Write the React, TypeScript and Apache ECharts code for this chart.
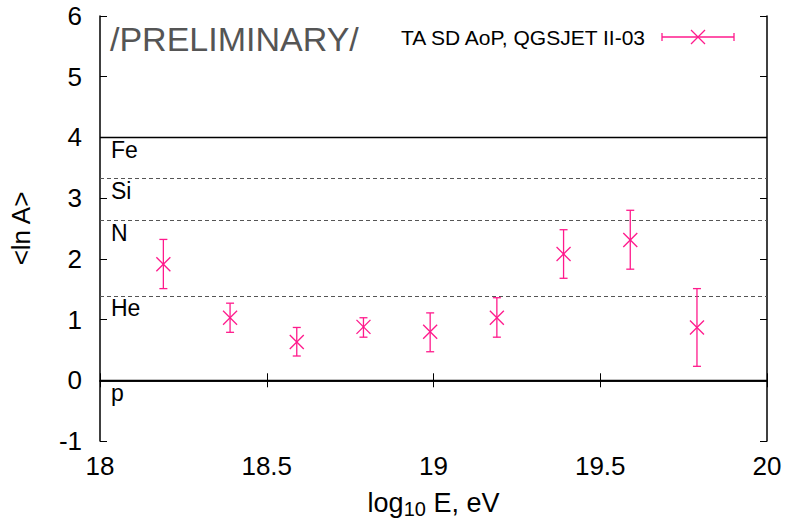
import React, { useEffect, useRef } from "react";
import * as echarts from "echarts";

const energies = [18.19, 18.39, 18.59, 18.79, 18.99, 19.19, 19.39, 19.59, 19.79];
const lnA = [1.91, 1.03, 0.63, 0.88, 0.8, 1.03, 2.08, 2.31, 0.87];
const errHigh = [2.32, 1.27, 0.87, 1.03, 1.11, 1.36, 2.48, 2.8, 1.51];
const errLow = [1.51, 0.79, 0.4, 0.71, 0.47, 0.71, 1.68, 1.83, 0.23];

const elementNames = ["Fe", "Si", "N", "He", "p"];
const elementLnA = [4.0, 3.33, 2.64, 1.386, 0];
const elementSolid = [true, false, false, false, true];

const seriesName = "TA SD AoP, QGSJET II-03";
const PINK = "#ff1a8c";

export default function App() {
  const ref = useRef<HTMLDivElement>(null);
  useEffect(() => {
    if (!ref.current) return;
    const chart = echarts.init(ref.current, null, { renderer: "svg" });
    const font = "'Liberation Sans', Arial, sans-serif";
    const data = energies.map((x, i) => [x, lnA[i], errLow[i], errHigh[i]]);

    const markData = elementNames.map((n, i) => ({
      name: n,
      yAxis: elementLnA[i],
      lineStyle: elementSolid[i]
        ? { color: "#000", type: "solid", width: 1.3 }
        : { color: "#555", type: [4, 3], width: 1 },
    }));

    const axisCommon = {
      axisLine: { show: true, lineStyle: { color: "#000", width: 1.5 } },
      axisTick: { show: true, inside: true, length: 7, lineStyle: { color: "#000", width: 1 } },
      splitLine: { show: false },
    };

    chart.setOption({
      animation: false,
      grid: { left: 100, right: 22, top: 16, bottom: 84 },
      xAxis: [
        {
          type: "value",
          min: 18,
          max: 20,
          interval: 0.5,
          ...axisCommon,
          axisLabel: {
            color: "#000",
            fontSize: 26,
            fontFamily: font,
            margin: 12,
            formatter: (v: number) => String(v),
          },
          name: "{a|log}{s|10}{a| E, eV}",
          nameLocation: "middle",
          nameGap: 46,
          nameTextStyle: {
            rich: {
              a: { fontSize: 27, fontFamily: font, color: "#000" },
              s: { fontSize: 20, fontFamily: font, color: "#000", verticalAlign: "bottom", padding: [12, 0, 0, 0] },
            },
          },
        },
        {
          type: "value",
          position: "top",
          min: 18,
          max: 20,
          interval: 0.5,
          ...axisCommon,
          axisLabel: { show: false },
        },
      ],
      yAxis: [
        {
          type: "value",
          min: -1,
          max: 6,
          interval: 1,
          ...axisCommon,
          axisLabel: { color: "#000", fontSize: 26, fontFamily: font, margin: 18 },
          name: "<ln A>",
          nameLocation: "middle",
          nameGap: 66,
          nameTextStyle: { fontSize: 26, fontFamily: font, color: "#000" },
        },
        {
          type: "value",
          position: "right",
          min: -1,
          max: 6,
          interval: 1,
          ...axisCommon,
          axisLabel: { show: false },
        },
      ],
      series: [
        {
          type: "custom",
          name: seriesName,
          data,
          renderItem: (params: any, api: any) => {
            const x = api.value(0);
            const c = api.coord([x, api.value(1)]);
            const lo = api.coord([x, api.value(2)]);
            const hi = api.coord([x, api.value(3)]);
            const cap = 4;
            const m = 7;
            const style = { stroke: PINK, lineWidth: 1.3, fill: "none" };
            return {
              type: "group",
              children: [
                { type: "line", shape: { x1: c[0], y1: lo[1], x2: c[0], y2: hi[1] }, style },
                { type: "line", shape: { x1: c[0] - cap, y1: lo[1], x2: c[0] + cap, y2: lo[1] }, style },
                { type: "line", shape: { x1: c[0] - cap, y1: hi[1], x2: c[0] + cap, y2: hi[1] }, style },
                { type: "line", shape: { x1: c[0] - m, y1: c[1] - m, x2: c[0] + m, y2: c[1] + m }, style },
                { type: "line", shape: { x1: c[0] - m, y1: c[1] + m, x2: c[0] + m, y2: c[1] - m }, style },
              ],
            };
          },
          markLine: {
            silent: true,
            symbol: "none",
            data: markData,
            label: {
              show: true,
              position: "insideStartBottom",
              formatter: (p: any) => p.name,
              color: "#000",
              fontSize: 23,
              fontFamily: font,
              distance: [11, 1],
            },
          },
          z: 5,
        },
      ],
      graphic: [
        {
          type: "text",
          left: 110,
          top: 22,
          style: { text: "/PRELIMINARY/", fontSize: 34, fontFamily: font, fill: "#555" },
        },
        {
          type: "text",
          x: 645,
          y: 37,
          style: {
            text: seriesName,
            fontSize: 21,
            fontFamily: font,
            fill: "#000",
            align: "right",
            verticalAlign: "middle",
          },
        },
        {
          type: "group",
          children: [
            { type: "line", shape: { x1: 662, y1: 37, x2: 734, y2: 37 }, style: { stroke: PINK, lineWidth: 1.3 } },
            { type: "line", shape: { x1: 662, y1: 33, x2: 662, y2: 41 }, style: { stroke: PINK, lineWidth: 1.3 } },
            { type: "line", shape: { x1: 734, y1: 33, x2: 734, y2: 41 }, style: { stroke: PINK, lineWidth: 1.3 } },
            { type: "line", shape: { x1: 691, y1: 30, x2: 705, y2: 44 }, style: { stroke: PINK, lineWidth: 1.3 } },
            { type: "line", shape: { x1: 691, y1: 44, x2: 705, y2: 30 }, style: { stroke: PINK, lineWidth: 1.3 } },
          ],
        },
      ],
    });
    return () => chart.dispose();
  }, []);
  return <div ref={ref} style={{ width: 789, height: 525, position: "absolute", left: 0, top: 0 }} />;
}
